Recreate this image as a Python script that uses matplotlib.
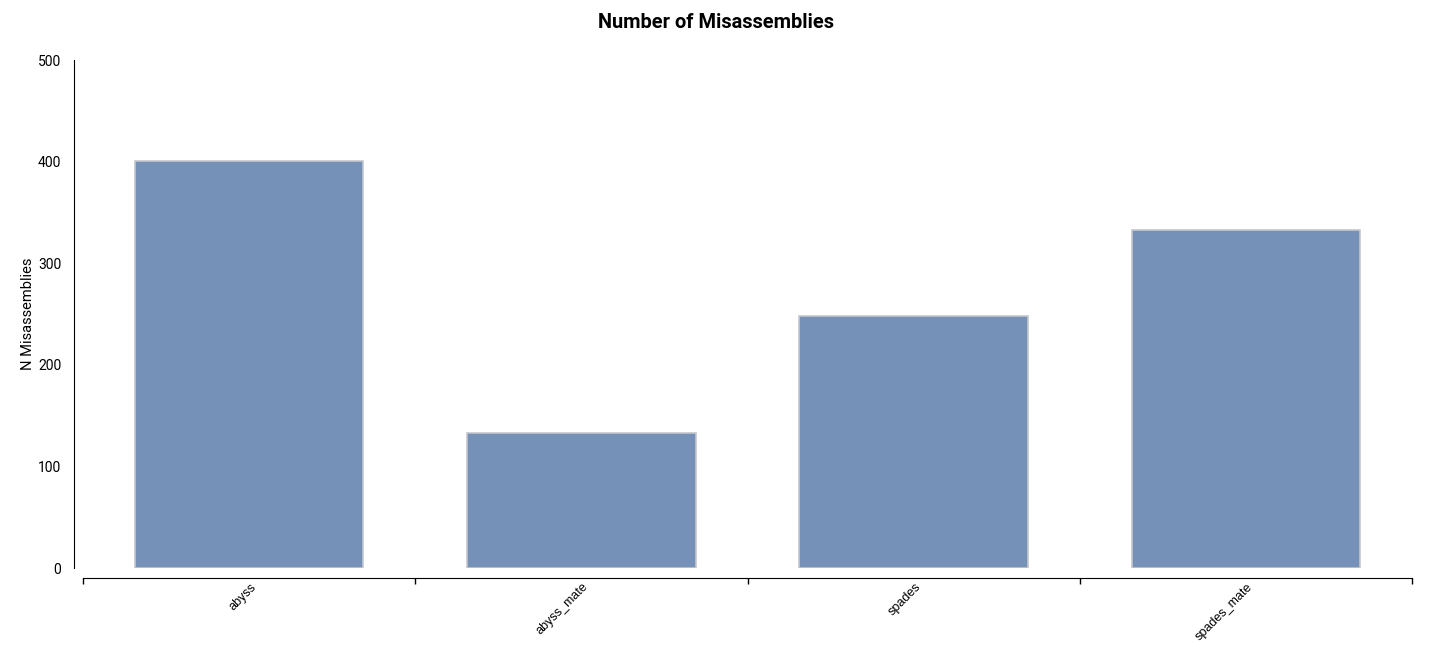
import matplotlib
matplotlib.use("Agg")
import matplotlib.pyplot as plt
import matplotlib.transforms as mtransforms
import numpy as np

categories = ["abyss", "abyss_mate", "spades", "spades_mate"]
values = [401, 133, 248, 333]
y_ticks = [0, 100, 200, 300, 400, 500]

plt.rcParams['font.family'] = ['Roboto', 'DejaVu Sans']
tick_font = ['Liberation Sans', 'DejaVu Sans']

fig = plt.figure(figsize=(14.32, 6.66), dpi=100)
ax = fig.add_axes([83/1432, 1-568/666, (1412-83)/1432, (568-60)/666])

x = np.arange(len(categories)) + 0.5
ax.bar(x, values, width=0.687, color='#7591b8', edgecolor='#c4c7cc', linewidth=1.2, zorder=2)

ax.set_xlim(0, len(categories))
ax.set_ylim(0, 500)
ax.set_yticks(y_ticks)
ax.set_yticklabels([str(t) for t in y_ticks], fontsize=8.2, family=tick_font)
ax.tick_params(axis='y', length=0, pad=9)

# boundary ticks on the x axis, no tick labels
ax.set_xticks(np.arange(len(categories) + 1))
ax.set_xticklabels([])
ax.tick_params(axis='x', which='major', length=4, width=1, direction='out')

# rotated category labels placed at the bar centres
trans = mtransforms.blended_transform_factory(ax.transData, ax.transAxes)
offset = mtransforms.ScaledTranslation(1/100, -13/100, fig.dpi_scale_trans)
for xi, cat in zip(x, categories):
    ax.text(xi, 0, cat, transform=trans + offset, rotation=45,
            rotation_mode='anchor', ha='right', va='top', fontsize=9,
            family=tick_font, clip_on=False)

for s in ['top', 'right']:
    ax.spines[s].set_visible(False)
ax.spines['bottom'].set_position(('outward', 7.2))
ax.spines['left'].set_position(('outward', 6.5))
ax.spines['left'].set_bounds(0, 500)

ax.set_ylabel("N Misassemblies", fontsize=10.5)
ax.yaxis.set_label_coords((35 - 83) / (1412 - 83), 0.5)
fig.text(716/1432, 1-22/666, "Number of Misassemblies", ha='center', va='center',
         fontsize=14.4, fontweight='bold')

fig.savefig("out.png", dpi=100)
